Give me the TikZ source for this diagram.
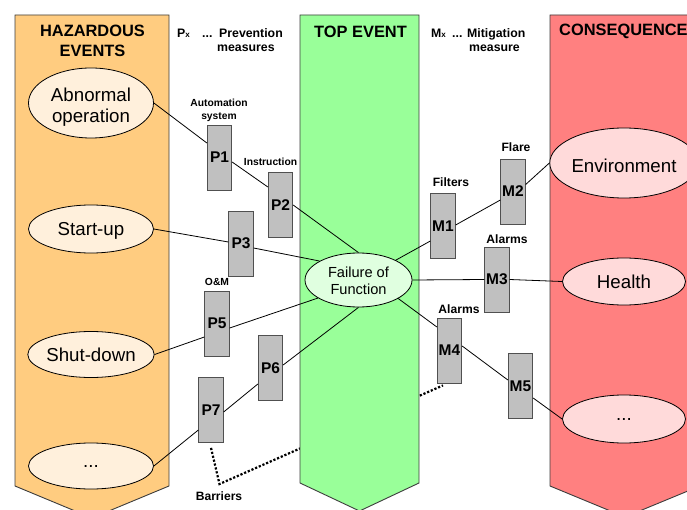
\documentclass[tikz,border=0pt]{standalone}
\usepackage{fontspec}
\setmainfont{Liberation Sans}
\usetikzlibrary{shapes.geometric}
\definecolor{hazfill}{RGB}{255,204,128}
\definecolor{topfill}{RGB}{153,255,153}
\definecolor{confill}{RGB}{255,128,128}
\definecolor{hazell}{RGB}{255,240,220}
\definecolor{topell}{RGB}{224,255,224}
\definecolor{conell}{RGB}{255,218,218}
\definecolor{boxfill}{RGB}{192,192,192}
\definecolor{boxline}{RGB}{80,80,80}
\definecolor{colline}{RGB}{60,60,60}
\pgfdeclarelayer{bg}
\pgfsetlayers{bg,main}
\tikzset{
  col/.style={draw=colline, line width=0.9pt},
  hdr/.style={font=\fontsize{16.4}{20}\selectfont\bfseries, align=center, inner sep=0pt},
  subhdr/.style={font=\fontsize{12.3}{14.5}\selectfont\bfseries, inner sep=0pt},
  evl/.style={ellipse, draw, line width=0.8pt, minimum width=125pt, inner sep=0pt,
    font=\fontsize{18.7}{21}\selectfont, align=center},
  barbox/.style={rectangle, draw=boxline, line width=0.8pt, fill=boxfill, minimum width=24.5pt,
    minimum height=65pt, inner sep=0pt, font=\fontsize{15.5}{18}\selectfont\bfseries},
  lab/.style={font=\fontsize{12.1}{14}\selectfont\bfseries, inner sep=0pt},
  slab/.style={font=\fontsize{10.3}{12.5}\selectfont\bfseries, inner sep=0pt, align=center},
  conn/.style={draw, line width=0.8pt},
  barrier/.style={draw, line width=2.2pt, dash pattern=on 2.2pt off 1.8pt}
}
\begin{document}
\begin{tikzpicture}[x=1pt,y=-1pt]
\useasboundingbox (0,0) rectangle (687,510);
% columns
\path[col, fill=hazfill] (15,15) -- (169,15) -- (169,486) -- (92,518) -- (15,486) -- cycle;
\path[col, fill=topfill] (300,15) -- (419,15) -- (419,483) -- (359.5,511) -- (300,483) -- cycle;
\path[col, fill=confill] (550,15) -- (700,15) -- (700,486) -- (625,517) -- (550,486) -- cycle;
% headers
\node[hdr] (hhaz) at (92.5,41) {HAZARDOUS\\EVENTS};
\node[hdr] (htop) at (360.5,31.5) {TOP EVENT};
\node[hdr, anchor=west] (hcon) at (559,31.5) {CONSEQUENCE};
\node[subhdr, anchor=base west] (hpx) at (177,37.5) {P{\fontsize{8}{8}\selectfont x}};
\node[subhdr, anchor=base west] (hpdots) at (202,37.5) {...};
\node[subhdr, anchor=base west] (hprev) at (219,37.5) {Prevention};
\node[subhdr, anchor=base west] (hpmeas) at (217,52) {measures};
\node[subhdr, anchor=base west] (hmx) at (431,37.5) {M{\fontsize{8}{8}\selectfont x}};
\node[subhdr, anchor=base west] (hmdots) at (452,37.5) {...};
\node[subhdr, anchor=base west] (hmit) at (467,37.5) {Mitigation};
\node[subhdr, anchor=base west] (hmmeas) at (469,52) {measure};
% hazardous events
\node[evl, fill=hazell, minimum height=70pt] (abn) at (91,103) {\rule{0pt}{21.7pt}Abnormal\\operation};
\node[evl, fill=hazell, minimum height=48pt] (st) at (91,229) {\rule{0pt}{17.7pt}Start-up};
\node[evl, fill=hazell, minimum height=46pt] (sd) at (91,354.5) {Shut-down};
\node[evl, fill=hazell, minimum height=46pt] (dl) at (91,466) {...};
% top event
\node[evl, fill=topell, minimum width=107pt, minimum height=54pt,
  font=\fontsize{14.6}{17}\selectfont] (fail) at (358.5,280) {\rule{0pt}{13pt}Failure of\\Function};
% consequences
\node[evl, fill=conell, minimum width=123pt, minimum height=70pt] (env) at (624,163) {\rule{0pt}{18.7pt}Environment};
\node[evl, fill=conell, minimum width=123pt, minimum height=47pt] (hl) at (624,281.5) {Health};
\node[evl, fill=conell, minimum width=123pt, minimum height=48pt] (dr) at (624,419) {...};
% barriers
\node[barbox] (P1) at (219.5,157.5) {P1};
\node[barbox] (P2) at (280.5,205) {P2};
\node[barbox] (P3) at (241,243.5) {P3};
\node[barbox] (P5) at (217,323.5) {P5};
\node[barbox] (P6) at (270.5,368) {P6};
\node[barbox] (P7) at (211,410) {P7};
\node[barbox] (M1) at (443,226) {M1};
\node[barbox] (M2) at (513,191.5) {M2};
\node[barbox] (M3) at (497,279.5) {M3};
\node[barbox] (M4) at (449.5,350.5) {M4};
\node[barbox] (M5) at (520.5,386) {M5};
% small labels
\node[slab] (lauto) at (219,110.5) {Automation\\system};
\node[slab] (linst) at (270.5,162) {Instruction};
\node[slab] (lom) at (217,281.5) {O\&M};
\node[lab] (lfil) at (451,182) {Filters};
\node[lab] (lfla) at (516,147) {Flare};
\node[lab] (lal1) at (507,239) {Alarms};
\node[lab] (lal2) at (459,309.5) {Alarms};
\node[lab] (lbar) at (219,496) {Barriers};
% connectors
\draw[conn] (abn.east) -- ([yshift=14.5pt]P1.west);
\draw[conn] ([yshift=-4.5pt]P1.east) -- ([yshift=18pt]P2.west);
\draw[conn] (P2.east) -- (fail.90);
\draw[conn] (st.east) -- ([yshift=1.5pt]P3.west);
\draw[conn] ([yshift=-4.5pt]P3.east) -- (fail.154);
\draw[conn] (sd.east) -- ([yshift=-13.5pt]P5.west);
\draw[conn] ([yshift=-4.5pt]P5.east) -- (fail.204);
\draw[conn] (dl.east) -- ([yshift=-20pt]P7.west);
\draw[conn] ([yshift=-2pt]P7.east) -- ([yshift=-16pt]P6.west);
\draw[conn] ([yshift=3pt]P6.east) -- (fail.270);
\draw[conn] (fail.28) -- ([yshift=-15pt]M1.west);
\draw[conn] ([yshift=1pt]M1.east) -- ([yshift=-8.5pt]M2.west);
\draw[conn] ([yshift=7pt]M2.east) -- (env.west);
\draw[conn] (fail.0) -- (M3.west);
\draw[conn] (M3.east) -- (hl.west);
\draw[conn] (fail.335) -- ([yshift=23.5pt]M4.west);
\draw[conn] ([yshift=4.5pt]M4.east) -- ([yshift=6pt]M5.west);
\draw[conn] ([yshift=-12pt]M5.east) -- (dr.west);
% barrier dotted line (behind the columns)
\coordinate (bk) at (219.5,484);
\begin{pgfonlayer}{bg}
\draw[barrier] ([yshift=-5pt]P7.south) -- (bk) -- ([xshift=-6.5pt,yshift=-2pt]M4.south);
\end{pgfonlayer}
\end{tikzpicture}
\end{document}
